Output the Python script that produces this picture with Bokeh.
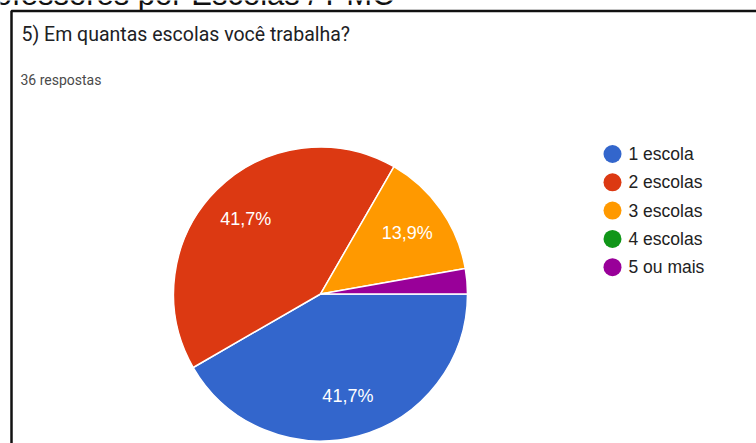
import math
from bokeh.plotting import figure
from bokeh.models import Range1d, ColumnDataSource
from bokeh.core.properties import value
from bokeh.embed import file_html
from bokeh.resources import INLINE

# ---- data ----
categories = ["1 escola", "2 escolas", "3 escolas", "4 escolas", "5 ou mais"]
counts = [15, 15, 5, 0, 1]
colors = ["#3366CC", "#DC3912", "#FF9900", "#109618", "#990099"]
title_text = "5) Em quantas escolas você trabalha?"
subtitle_text = "36 respostas"
heading_text = "Professores por Escolas / PMC"

# ---- layout constants (page pixels) ----
W, H = 756, 443
CX, CY, R = 320, 293.5, 147
LABEL_R = 0.72 * R
LEG_X, LEG_Y0, LEG_DY = 612, 153.5, 28.3

def py(y):
    return H - y

p = figure(width=W, height=H, x_range=Range1d(0, W), y_range=Range1d(0, H),
           output_backend="svg", toolbar_location=None, min_border=0,
           x_axis_location=None, y_axis_location=None,
           margin=(0, 0, 0, 0))
p.grid.visible = False
p.outline_line_color = None
p.background_fill_color = "white"
p.border_fill_color = "white"

# heading cut off at top
p.text(x=[394], y=[py(-6)], text=[heading_text], text_align="right",
       text_baseline="alphabetic", text_font=value("Liberation Sans"),
       text_font_size="31px", text_color="#111111")

# card border
p.line(x=[11, 11, W], y=[0, py(10.5), py(10.5)], line_color="#111111", line_width=2.5)

# title and subtitle
p.text(x=[21], y=[py(33.5)], text=[title_text], text_baseline="alphabetic",
       text_font=value("Roboto"), text_font_size="19.5px", text_color="#202124")
p.text(x=[20], y=[py(79)], text=[subtitle_text], text_baseline="alphabetic",
       text_font=value("Roboto"), text_font_size="14px", text_color="#4a4a4a")

# pie
total = sum(counts)
starts, ends, cols, lx, ly, labels = [], [], [], [], [], []
cum = 0
for c, col in zip(counts, colors):
    frac = c / total
    if c > 0:
        a0 = -2 * math.pi * cum
        a1 = -2 * math.pi * (cum + frac)
        starts.append(a0)
        ends.append(a1)
        cols.append(col)
        if frac >= 0.05:
            mid = (a0 + a1) / 2
            lx.append(CX + LABEL_R * math.cos(mid))
            ly.append(py(CY) + LABEL_R * math.sin(mid))
            labels.append(f"{frac * 100:.1f}".replace(".", ",") + "%")
    cum += frac

src = ColumnDataSource(dict(start=starts, end=ends, color=cols))
p.wedge(x=CX, y=py(CY), radius=R, start_angle="start", end_angle="end",
        direction="clock", fill_color="color", line_color="white",
        line_width=1.5, source=src)

p.text(x=lx, y=ly, text=labels, text_align="center", text_baseline="middle",
       text_font=value("Liberation Sans"), text_font_size="18px", text_color="white")

# legend
leg_y = [py(LEG_Y0 + i * LEG_DY) for i in range(len(categories))]
p.scatter(x=[LEG_X] * len(categories), y=leg_y, size=18, marker="circle",
          fill_color=colors, line_color=None)
p.text(x=[LEG_X + 16] * len(categories), y=leg_y, text=categories,
       text_baseline="middle", text_font=value("Liberation Sans"),
       text_font_size="17.5px", text_color="#222222")

open("out.html", "w").write(file_html(p, INLINE))
